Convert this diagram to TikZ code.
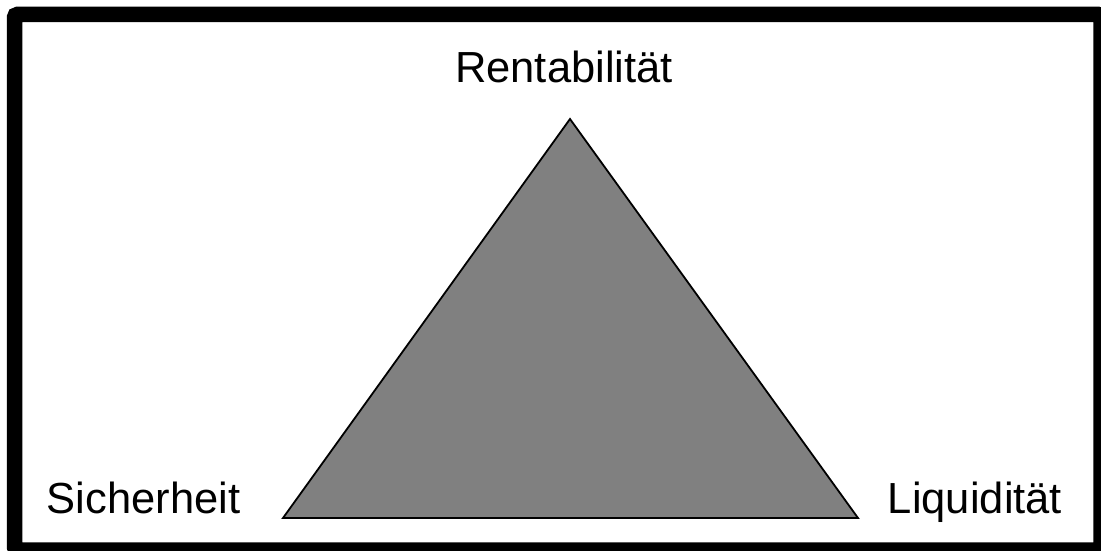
\documentclass[tikz,border=0pt]{standalone}
\usepackage{fontspec}
\setmainfont{Liberation Sans}
\begin{document}
\begin{tikzpicture}[x=1pt,y=-1pt,
  lbl/.style={anchor=base,inner sep=0pt,font=\fontsize{43.5}{50}\selectfont},
  frame/.style={draw=black,line width=15.5pt},
  tri/.style={draw=black,line width=1.8pt,fill=gray,line join=miter}]
\useasboundingbox (0,0) rectangle (1101,551);
\fill[white] (0,0) rectangle (1101,551);
\draw[frame,rounded corners=3pt] (14.5,14.5) rectangle (1101,550);
\coordinate (top) at (570,119);
\coordinate (bl) at (283,518);
\coordinate (br) at (858,518);
\draw[tri] (top) -- (br) -- (bl) -- cycle;
\node[lbl] (r) at (564,83) {Rentabilität};
\node[lbl] (s) at (143.5,513) {Sicherheit};
\node[lbl] (l) at (975,513) {Liquidität};
\end{tikzpicture}
\end{document}
